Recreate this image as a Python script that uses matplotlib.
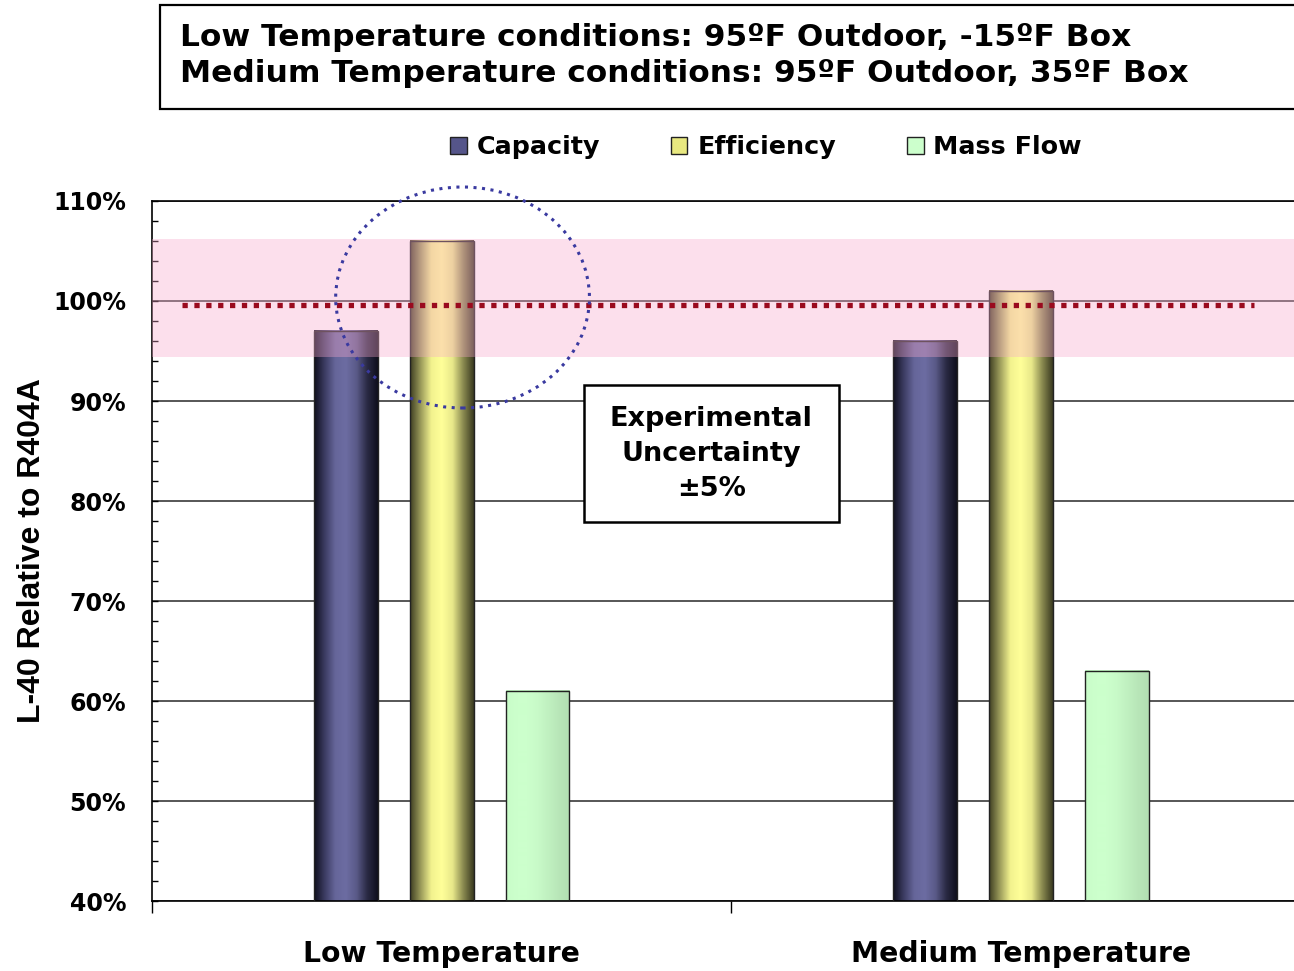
import numpy as np
import matplotlib
matplotlib.use("Agg")
import matplotlib.pyplot as plt
from matplotlib.patches import Rectangle, Ellipse, Patch
from matplotlib.colors import LinearSegmentedColormap
from matplotlib.ticker import MultipleLocator, FixedLocator, NullFormatter, FuncFormatter

# ---------------- data ----------------
categories = ["Low Temperature", "Medium Temperature"]
series_names = ["Capacity", "Efficiency", "Mass Flow"]
capacity = [97, 96]
efficiency = [106, 101]
mass_flow = [61, 63]
baseline_value = 99.6          # dotted R404A reference line
band_low, band_high = 94.4, 106.2   # experimental uncertainty band
y_ticks = [40, 50, 60, 70, 80, 90, 100, 110]
title_lines = ["Low Temperature conditions: 95\u00baF Outdoor, -15\u00baF Box",
               "Medium Temperature conditions: 95\u00baF Outdoor, 35\u00baF Box"]
note_text = "Experimental\nUncertainty\n\u00b15%"
ylabel_text = "L-40 Relative to R404A"

# ---------------- style ----------------
plt.rcParams['font.family'] = ['DejaVu Sans']
plt.rcParams['font.weight'] = 'bold'

W, H = 1294, 971
fig = plt.figure(figsize=(W / 100, H / 100), dpi=100)
ax = fig.add_axes([152 / W, 1 - 901 / H, 1 - 152 / W, (901 - 201) / H])

grad_stops = {
    "Capacity":   ["#0e0e1c", "#3c3c62", "#66669a", "#6c6ca2", "#5a5a88", "#2a2a44", "#0e0e1c"],
    "Efficiency": ["#3e3e22", "#9a9a5a", "#f2f28e", "#ffff99", "#e8e88a", "#8a8a50", "#3a3a20"],
    "Mass Flow":  ["#c8fcc8", "#ccffcc", "#ccffcc", "#c8fac8", "#c0f0c0", "#b8e6b8", "#b2dfb2"],
}
legend_colors = {"Capacity": "#55558a", "Efficiency": "#e8e880", "Mass Flow": "#ccffcc"}

x = np.arange(len(categories))
bar_w = 0.11
offsets = [-0.1655, 0.0, 0.1655]
values = [capacity, efficiency, mass_flow]

grad = np.linspace(0, 1, 256).reshape(1, -1)
for name, vals, off in zip(series_names, values, offsets):
    bars = ax.bar(x + off, vals, width=bar_w, bottom=0, facecolor='none',
                  edgecolor='#222222', linewidth=1.0, zorder=3)
    cmap = LinearSegmentedColormap.from_list(name, grad_stops[name])
    for p in bars.patches:
        x0, w = p.get_x(), p.get_width()
        im = ax.imshow(grad, extent=[x0, x0 + w, 0, p.get_height()], aspect='auto',
                       cmap=cmap, zorder=2, interpolation='bilinear')
        im.set_clip_path(p)
        im.set_clip_box(ax.bbox)

# uncertainty band (over the bars)
ax.axhspan(band_low, band_high, facecolor='#f7a8cc', alpha=0.36, edgecolor='none', zorder=4)

# dotted reference line
ax.hlines(baseline_value, -0.448, 1.402, colors='#9a0a1e', linewidth=3.8,
          linestyles=(0, (1, 1.25)), zorder=5)

# dotted ellipse highlight
ell = Ellipse((0.036, 100.35), 0.438, 22.1, fill=False, edgecolor='#3a3aa0',
              linewidth=2.2, linestyle=(0, (1, 1.8)), zorder=6, clip_on=False)
ax.add_patch(ell)

# note box
ax.add_patch(Rectangle((0.2448, 77.9), 0.686 - 0.2448, 91.6 - 77.9, facecolor='white',
                       edgecolor='black', linewidth=1.8, zorder=7))
ax.text(0.4655, 84.75, note_text, ha='center', va='center', fontsize=19.5,
        fontweight='bold', linespacing=1.45, zorder=8)

# axes setup
ax.set_xlim(-0.5, 1.471)
ax.set_ylim(40, 110)
ax.set_yticks(y_ticks)
ax.yaxis.set_minor_locator(MultipleLocator(2))
ax.yaxis.set_major_formatter(FuncFormatter(lambda v, _: f"{v:.0f}%"))
ax.tick_params(axis='y', which='both', direction='in', length=4.3, width=1.0,
               labelsize=17, pad=18.5)
ax.grid(axis='y', which='major', color='#3a3a3a', linewidth=1.2, zorder=0.5)
ax.set_axisbelow(True)

ax.xaxis.set_major_locator(FixedLocator([-0.5, 0.5, 1.5]))
ax.xaxis.set_major_formatter(NullFormatter())
ax.xaxis.set_minor_locator(FixedLocator(x))
ax.set_xticklabels(categories, minor=True)
ax.tick_params(axis='x', which='major', direction='out', length=8.6, width=1.0)
ax.tick_params(axis='x', which='minor', length=0, labelsize=20.3, pad=28)

ax.spines['right'].set_visible(False)
for s in ['left', 'bottom', 'top']:
    ax.spines[s].set_linewidth(1.2)
    ax.spines[s].set_color('black')

fig.text(32 / W, 1 - 551 / H, ylabel_text, rotation=90, ha='center', va='center',
         fontsize=23, fontweight='bold', family=['Liberation Sans', 'DejaVu Sans'])

# legend
handles = [Patch(facecolor=legend_colors[n], edgecolor='#222222', linewidth=1.0)
           for n in series_names]
fig.legend(handles, series_names, loc='center', bbox_to_anchor=(766 / W, 1 - 147 / H),
           ncol=3, frameon=False, fontsize=18.3, handlelength=0.65, handleheight=0.65,
           handletextpad=0.38, columnspacing=2.8, borderpad=0.2)

# title box
fig.patches.append(Rectangle((160 / W, 1 - 109 / H), 1.2, (109 - 5) / H, transform=fig.transFigure,
                             facecolor='white', edgecolor='black', linewidth=1.6))
fig.text(180 / W, 1 - 46 / H, title_lines[0], ha='left', va='baseline', fontsize=22.5,
         fontweight='bold')
fig.text(180 / W, 1 - 82 / H, title_lines[1], ha='left', va='baseline', fontsize=22.5,
         fontweight='bold')

fig.savefig("out.png", dpi=100)
